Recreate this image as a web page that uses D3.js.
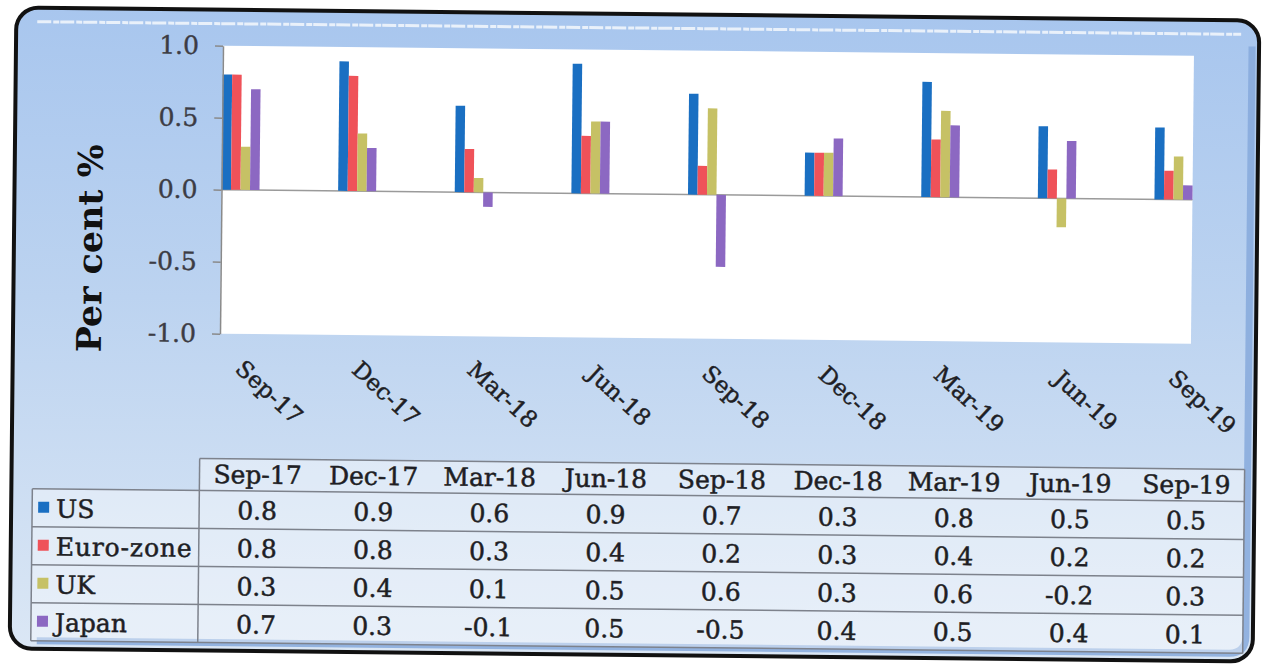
<!DOCTYPE html>
<html>
<head>
<meta charset="utf-8">
<script src="https://cdn.jsdelivr.net/npm/d3@7"></script>
<style>
  body { margin: 0; background: #ffffff; }
  svg { display: block; }
  text { font-family: "DejaVu Serif", "Liberation Serif", serif; }
</style>
</head>
<body>
<svg id="chart" width="1262" height="669"></svg>
<script>
// ---------- data ----------
const categories = ["Sep-17", "Dec-17", "Mar-18", "Jun-18", "Sep-18", "Dec-18", "Mar-19", "Jun-19", "Sep-19"];
const seriesNames = ["US", "Euro-zone", "UK", "Japan"];
const usValues    = [0.8, 0.9, 0.6, 0.9, 0.7, 0.3, 0.8, 0.5, 0.5];
const euroValues  = [0.8, 0.8, 0.3, 0.4, 0.2, 0.3, 0.4, 0.2, 0.2];
const ukValues    = [0.3, 0.4, 0.1, 0.5, 0.6, 0.3, 0.6, -0.2, 0.3];
const japanValues = [0.7, 0.3, -0.1, 0.5, -0.5, 0.4, 0.5, 0.4, 0.1];
const yTickValues = [-1.0, -0.5, 0.0, 0.5, 1.0];
const yTitle = "Per cent %";

// ---------- styles ----------
const seriesColors = ["#1a6fc2", "#ef5259", "#c6c165", "#8c68c2"];

const seriesValues = [usValues, euroValues, ukValues, japanValues];
const series = seriesNames.map((name, i) => ({ name, values: seriesValues[i], color: seriesColors[i] }));

const svg = d3.select("#chart");
const defs = svg.append("defs");
const grad = defs.append("linearGradient").attr("id", "panelGrad")
  .attr("x1", 0).attr("y1", 0).attr("x2", 0).attr("y2", 1);
grad.append("stop").attr("offset", "0%").attr("stop-color", "#a8c6ee");
grad.append("stop").attr("offset", "45%").attr("stop-color", "#bcd3f0");
grad.append("stop").attr("offset", "100%").attr("stop-color", "#dbe7f5");

// whole scanned picture is slightly tilted
const root = svg.append("g").attr("transform", "rotate(0.6,636,335)");

// ---------- panel ----------
root.append("rect")
  .attr("x", 13).attr("y", 14).attr("width", 1243).attr("height", 641)
  .attr("rx", 22).attr("ry", 22)
  .attr("fill", "url(#panelGrad)");
root.append("path")
  .attr("d", "M1249,40 L1249,630 Q1249,647 1232,647 L40,647")
  .attr("fill", "none").attr("stroke", "#86a9dc").attr("stroke-width", 7).attr("opacity", 0.85);
root.append("line")
  .attr("x1", 34).attr("x2", 1238).attr("y1", 28).attr("y2", 28)
  .attr("stroke", "#ffffff").attr("stroke-width", 3).attr("opacity", 0.75)
  .attr("stroke-dasharray", "14 2 6 1");
root.append("rect")
  .attr("x", 13).attr("y", 14).attr("width", 1243).attr("height", 641)
  .attr("rx", 22).attr("ry", 22)
  .attr("fill", "none").attr("stroke", "#111111").attr("stroke-width", 4);

// ---------- plot ----------
const plotLeft = 220, plotRight = 1191, plotTop = 50, plotBottom = 338;
root.append("rect")
  .attr("x", plotLeft).attr("y", plotTop)
  .attr("width", plotRight - plotLeft).attr("height", plotBottom - plotTop)
  .attr("fill", "#ffffff");

const y = d3.scaleLinear().domain([-1, 1]).range([plotBottom, plotTop]);
const xGroup = d3.scalePoint().domain(categories).range([239, 1172]);
const xBar = d3.scaleBand().domain(seriesNames).range([-19, 19]).padding(0);

root.append("line")
  .attr("x1", plotLeft).attr("x2", plotRight)
  .attr("y1", y(0)).attr("y2", y(0))
  .attr("stroke", "#9a9a9a").attr("stroke-width", 1.5);

const groups = root.append("g").selectAll("g")
  .data(categories).join("g")
  .attr("transform", d => `translate(${xGroup(d)},0)`);
groups.selectAll("rect")
  .data((c, ci) => series.map(s => ({ name: s.name, value: s.values[ci], color: s.color })))
  .join("rect")
  .attr("x", d => xBar(d.name))
  .attr("width", xBar.bandwidth())
  .attr("y", d => y(Math.max(0, d.value)))
  .attr("height", d => Math.abs(y(d.value) - y(0)))
  .attr("fill", d => d.color);

const yAxis = root.append("g")
  .attr("transform", `translate(${plotLeft},0)`)
  .call(d3.axisLeft(y).tickValues(yTickValues).tickFormat(d => d.toFixed(1)).tickSize(8).tickSizeOuter(0).tickPadding(16));
yAxis.select(".domain").attr("stroke", "#8a8a8a").attr("stroke-width", 1.5);
yAxis.selectAll(".tick line").attr("stroke", "#8a8a8a").attr("stroke-width", 1.5);
yAxis.selectAll(".tick text")
  .attr("fill", "#3c3c44").attr("font-size", 25)
  .attr("stroke", "#3c3c44").attr("stroke-width", 0.4)
  .style("font-family", "'DejaVu Serif', serif");

root.append("text")
  .attr("transform", "translate(89,254) rotate(-90)")
  .attr("text-anchor", "middle").attr("dominant-baseline", "central")
  .attr("font-size", 34).attr("font-weight", "bold").attr("fill", "#111111")
  .attr("textLength", 208).attr("lengthAdjust", "spacingAndGlyphs")
  .text(yTitle);

root.append("g").selectAll("text")
  .data(categories).join("text")
  .attr("transform", d => `translate(${xGroup(d) + 31},396) rotate(42)`)
  .attr("text-anchor", "middle").attr("dominant-baseline", "central")
  .attr("font-size", 23).attr("fill", "#1e1e24")
  .attr("stroke", "#1e1e24").attr("stroke-width", 0.5)
  .text(d => d);

// ---------- data table ----------
const tableLeft = 34, colStart = 201, tableRight = 1246;
const headerTop = 463, rowTop = 495, rowH = 38;
const xCol = d3.scaleBand().domain(categories).range([colStart, tableRight]);
const yRow = d3.scaleBand().domain(seriesNames).range([rowTop, rowTop + rowH * seriesNames.length]);
const tableBottom = rowTop + rowH * seriesNames.length;

const table = root.append("g");
table.append("rect").attr("x", colStart).attr("y", headerTop)
  .attr("width", tableRight - colStart).attr("height", tableBottom - headerTop)
  .attr("fill", "rgba(255,255,255,0.38)");
table.append("rect").attr("x", tableLeft).attr("y", rowTop)
  .attr("width", colStart - tableLeft).attr("height", tableBottom - rowTop)
  .attr("fill", "rgba(255,255,255,0.38)");

const gridColor = "#7d828c";
table.append("line").attr("x1", colStart).attr("x2", tableRight)
  .attr("y1", headerTop).attr("y2", headerTop)
  .attr("stroke", gridColor).attr("stroke-width", 1.5);
table.selectAll("line.h").data(d3.range(seriesNames.length + 1)).join("line")
  .attr("class", "h")
  .attr("x1", tableLeft).attr("x2", tableRight)
  .attr("y1", i => rowTop + i * rowH).attr("y2", i => rowTop + i * rowH)
  .attr("stroke", gridColor).attr("stroke-width", 1.5);
table.append("line").attr("x1", tableLeft).attr("x2", tableLeft)
  .attr("y1", rowTop).attr("y2", tableBottom).attr("stroke", gridColor).attr("stroke-width", 1.5);
table.append("line").attr("x1", colStart).attr("x2", colStart)
  .attr("y1", headerTop).attr("y2", tableBottom).attr("stroke", gridColor).attr("stroke-width", 1.5);
table.append("line").attr("x1", tableRight).attr("x2", tableRight)
  .attr("y1", headerTop).attr("y2", tableBottom).attr("stroke", gridColor).attr("stroke-width", 1.5);

const textColor = "#1e1e24";
table.selectAll("text.head").data(categories).join("text")
  .attr("class", "head")
  .attr("x", d => xCol(d) + xCol.bandwidth() / 2)
  .attr("y", (headerTop + rowTop) / 2)
  .attr("text-anchor", "middle").attr("dominant-baseline", "central")
  .attr("font-size", 25).attr("fill", textColor)
  .attr("stroke", textColor).attr("stroke-width", 0.5)
  .text(d => d);

const rows = table.selectAll("g.row").data(series).join("g").attr("class", "row");
rows.append("rect")
  .attr("x", 40).attr("y", d => yRow(d.name) + rowH / 2 - 6)
  .attr("width", 11).attr("height", 11)
  .attr("fill", d => d.color);
rows.append("text")
  .attr("x", 58).attr("y", d => yRow(d.name) + rowH / 2 + 1)
  .attr("dominant-baseline", "central")
  .attr("font-size", 25).attr("fill", textColor)
  .attr("stroke", textColor).attr("stroke-width", 0.5)
  .attr("textLength", d => d.name === "Euro-zone" ? 136 : null)
  .text(d => d.name);
rows.selectAll("text.val")
  .data(s => s.values.map((v, i) => ({ v, cat: categories[i], name: s.name })))
  .join("text").attr("class", "val")
  .attr("x", d => xCol(d.cat) + xCol.bandwidth() / 2)
  .attr("y", d => yRow(d.name) + rowH / 2 + 1)
  .attr("text-anchor", "middle").attr("dominant-baseline", "central")
  .attr("font-size", 25).attr("fill", textColor)
  .attr("stroke", textColor).attr("stroke-width", 0.5)
  .text(d => d.v.toFixed(1));
</script>
</body>
</html>
